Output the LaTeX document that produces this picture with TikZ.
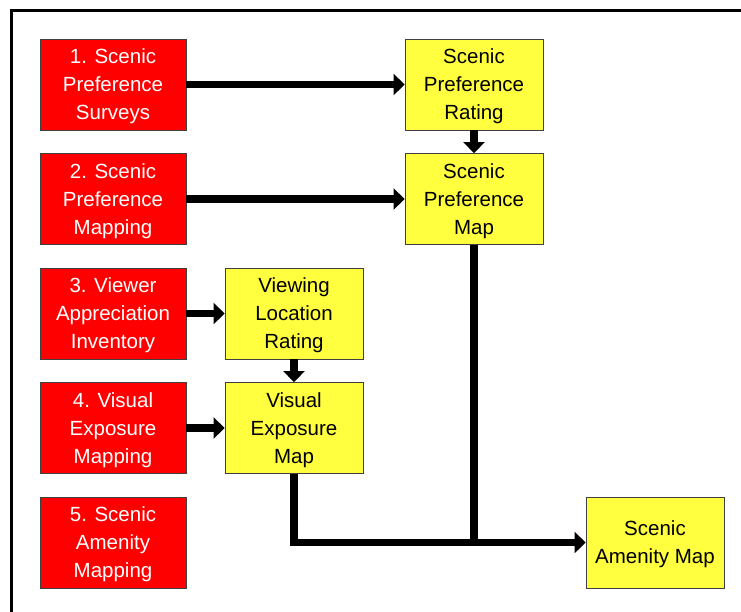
\documentclass[tikz,border=0pt]{standalone}
\usepackage{fontspec}
\setmainfont{Liberation Sans}
\usetikzlibrary{arrows.meta}
\definecolor{boxyellow}{RGB}{255,255,64}
\definecolor{boxred}{RGB}{255,0,0}
\tikzset{
  basebox/.style={draw=black!75, line width=0.8pt, inner sep=0pt, align=center,
    minimum height=91pt, font=\fontsize{20.5}{28}\selectfont,
    text height=75pt, text depth=4.5pt},
  redbox/.style={basebox, fill=boxred, text=white, minimum width=146pt},
  yelbox/.style={basebox, fill=boxyellow, text=black, minimum width=138pt},
  arr/.style={line width=7.5pt, -{Triangle[width=21pt,length=11pt]}},
  conn/.style={line width=7.5pt}
}
\begin{document}
\begin{tikzpicture}[x=1pt,y=-1pt]
\useasboundingbox (0,0) rectangle (741,611);
\clip (0,0) rectangle (741,611);
\draw[line width=3pt] (11.5,640) -- (11.5,10.5) -- (760,10.5);

\node[redbox] (b1) at (113,84.5) {1. Scenic\\Preference\\Surveys};
\node[redbox] (b2) at (113,199) {2. Scenic\\Preference\\Mapping};
\node[redbox] (b3) at (113,313.5) {3. Viewer\\Appreciation\\Inventory};
\node[redbox] (b4) at (113,428) {4. Visual\\Exposure\\Mapping};
\node[redbox] (b5) at (113,542.5) {5. Scenic\\Amenity\\Mapping};

\node[yelbox] (spr) at (474,84.5) {Scenic\\Preference\\Rating};
\node[yelbox] (spm) at (474,199) {Scenic\\Preference\\Map};
\node[yelbox] (vlr) at (294,313.5) {Viewing\\Location\\Rating};
\node[yelbox] (vem) at (294,428) {Visual\\Exposure\\Map};
\node[yelbox, text height=46pt] (sam) at (655,542.5) {Scenic\\Amenity Map};

\draw[arr] (b1) -- (spr);
\draw[arr] (spr) -- (spm);
\draw[arr] (b2) -- (spm);
\draw[arr] (b3) -- (vlr);
\draw[arr] (vlr) -- (vem);
\draw[arr] (b4) -- (vem);
\draw[arr] (vem.south) |- (sam.west);
\draw[conn] (spm.south) -- (spm.south |- sam.west);
\end{tikzpicture}
\end{document}
